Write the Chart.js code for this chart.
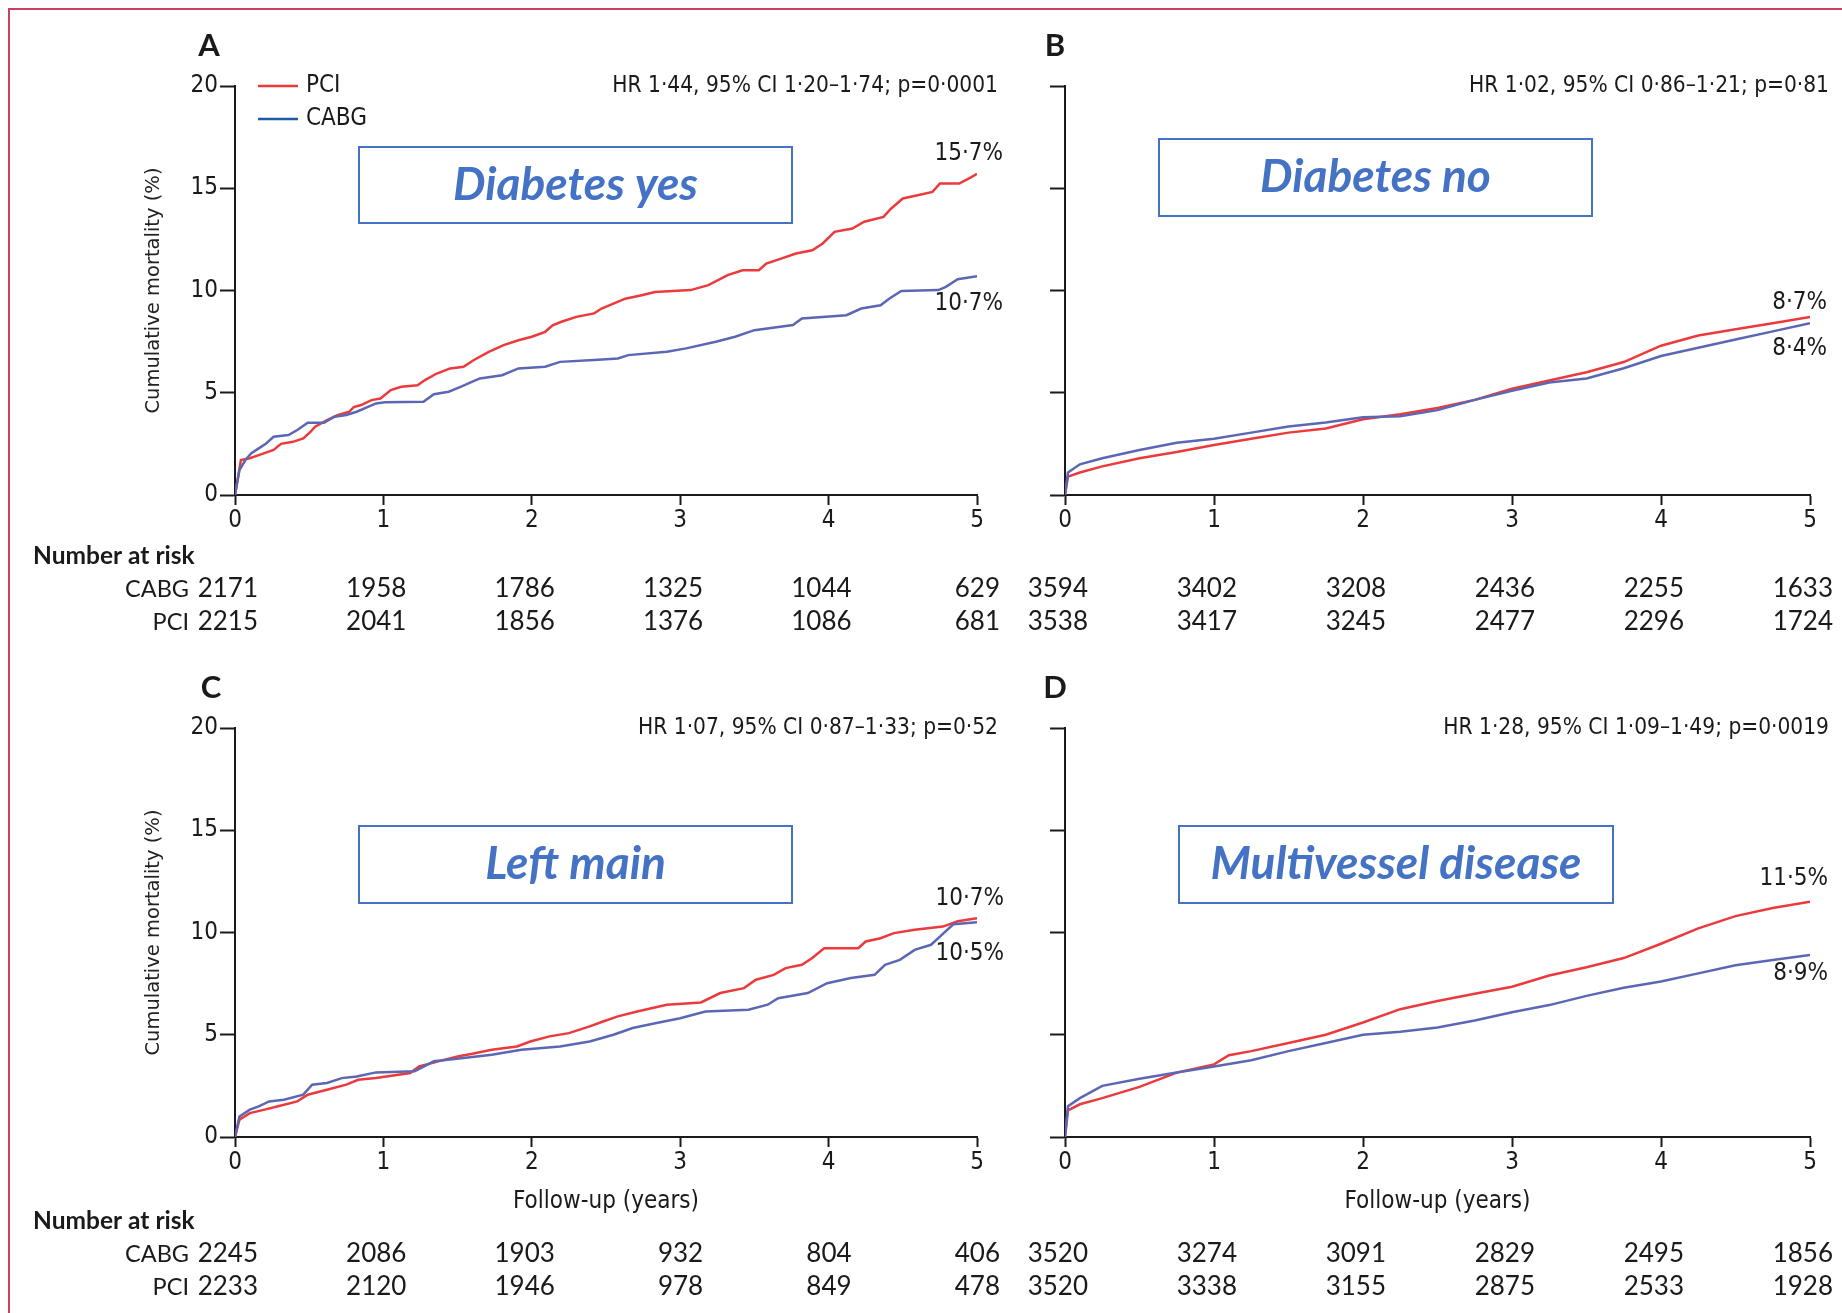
<!DOCTYPE html>
<html>
<head>
<meta charset="utf-8">
<title>Cumulative mortality, PCI vs CABG</title>
<script src="https://cdn.jsdelivr.net/npm/chart.js@4.4.1/dist/chart.umd.min.js"></script>
<style>
  html, body { margin: 0; padding: 0; background: #fff; }
  body { width: 1842px; height: 1313px; position: relative; overflow: hidden; }
  .frame { position: absolute; left: 8px; top: 8px; width: 1900px; height: 1400px;
           border-left: 2px solid #c8415f; border-top: 2px solid #c8415f; }
  .panel { position: absolute; }
</style>
</head>
<body>
<div class="frame"></div>
<div class="panel" style="left:0;top:0;width:1020px;height:660px"><canvas id="chartA"></canvas></div>
<div class="panel" style="left:1020px;top:0;width:822px;height:660px"><canvas id="chartB"></canvas></div>
<div class="panel" style="left:0;top:660px;width:1020px;height:653px"><canvas id="chartC"></canvas></div>
<div class="panel" style="left:1020px;top:660px;width:822px;height:653px"><canvas id="chartD"></canvas></div>
<script>
// follow-up years shown on the x axis, and the y ticks
const yearTicks = [0, 1, 2, 3, 4, 5];
const mortalityTicks = [0, 5, 10, 15, 20];

// Kaplan-Meier curves: [years, cumulative mortality %]
const diabYesPci = [[0,0],[0.04,1.71],[0.1,1.8],[0.16,1.95],[0.26,2.2],[0.31,2.5],[0.39,2.6],[0.46,2.77],[0.51,3.1],[0.54,3.34],[0.62,3.66],[0.69,3.9],[0.77,4.07],[0.8,4.3],[0.85,4.4],[0.92,4.64],[0.98,4.72],[1.05,5.13],[1.12,5.29],[1.23,5.37],[1.28,5.62],[1.36,5.94],[1.45,6.19],[1.54,6.27],[1.61,6.6],[1.71,7.0],[1.81,7.33],[1.91,7.57],[2.0,7.74],[2.09,7.98],[2.14,8.3],[2.2,8.47],[2.3,8.71],[2.42,8.88],[2.47,9.12],[2.55,9.36],[2.63,9.6],[2.74,9.77],[2.83,9.93],[3.07,10.02],[3.19,10.26],[3.32,10.75],[3.42,10.99],[3.53,10.99],[3.58,11.32],[3.68,11.56],[3.78,11.81],[3.89,11.97],[3.96,12.3],[4.04,12.87],[4.16,13.03],[4.24,13.36],[4.37,13.6],[4.42,14.0],[4.5,14.5],[4.6,14.66],[4.7,14.82],[4.75,15.23],[4.88,15.23],[4.95,15.5],[5,15.7]];
const diabYesCabg = [[0,0],[0.03,1.22],[0.07,1.71],[0.11,2.04],[0.16,2.28],[0.21,2.52],[0.26,2.85],[0.36,2.93],[0.42,3.18],[0.49,3.53],[0.6,3.53],[0.67,3.83],[0.75,3.91],[0.82,4.07],[0.95,4.48],[1.01,4.53],[1.27,4.56],[1.34,4.93],[1.44,5.05],[1.52,5.29],[1.6,5.54],[1.65,5.7],[1.8,5.86],[1.91,6.19],[2.09,6.27],[2.19,6.51],[2.42,6.6],[2.58,6.68],[2.65,6.84],[2.91,7.0],[3.04,7.17],[3.24,7.49],[3.37,7.74],[3.5,8.06],[3.76,8.31],[3.82,8.63],[4.12,8.79],[4.22,9.12],[4.35,9.28],[4.41,9.61],[4.49,9.98],[4.74,10.02],[4.79,10.18],[4.87,10.55],[5,10.7]];
const diabNoPci = [[0,0],[0.02,0.9],[0.1,1.1],[0.25,1.4],[0.5,1.8],[0.75,2.1],[1,2.45],[1.25,2.75],[1.5,3.05],[1.75,3.25],[2,3.7],[2.25,3.95],[2.5,4.25],[2.75,4.65],[3,5.2],[3.25,5.6],[3.5,6.0],[3.75,6.5],[4,7.3],[4.25,7.8],[4.5,8.1],[4.75,8.4],[5,8.7]];
const diabNoCabg = [[0,0],[0.02,1.1],[0.1,1.5],[0.25,1.8],[0.5,2.2],[0.75,2.55],[1,2.75],[1.25,3.05],[1.5,3.35],[1.75,3.55],[2,3.8],[2.25,3.85],[2.5,4.15],[2.75,4.65],[3,5.1],[3.25,5.5],[3.5,5.7],[3.75,6.2],[4,6.8],[4.25,7.2],[4.5,7.6],[4.75,8.0],[5,8.4]];
const leftMainPci = [[0,0],[0.03,0.85],[0.1,1.17],[0.2,1.34],[0.29,1.5],[0.42,1.74],[0.49,2.07],[0.62,2.31],[0.75,2.56],[0.83,2.8],[0.95,2.88],[1.18,3.13],[1.24,3.45],[1.37,3.7],[1.5,3.94],[1.6,4.07],[1.73,4.27],[1.9,4.43],[1.99,4.67],[2.12,4.92],[2.25,5.08],[2.39,5.41],[2.48,5.65],[2.58,5.9],[2.71,6.14],[2.91,6.47],[3.14,6.58],[3.27,7.04],[3.43,7.28],[3.51,7.69],[3.63,7.93],[3.71,8.26],[3.82,8.42],[3.89,8.75],[3.97,9.23],[4.2,9.23],[4.25,9.56],[4.35,9.72],[4.44,9.97],[4.58,10.13],[4.77,10.29],[4.87,10.55],[5,10.7]];
const leftMainCabg = [[0,0],[0.03,1.0],[0.1,1.34],[0.16,1.5],[0.23,1.74],[0.33,1.82],[0.46,2.07],[0.52,2.56],[0.62,2.64],[0.72,2.88],[0.82,2.96],[0.95,3.16],[1.21,3.21],[1.34,3.7],[1.54,3.86],[1.73,4.02],[1.93,4.27],[2.19,4.43],[2.39,4.67],[2.55,5.0],[2.68,5.33],[2.84,5.57],[3.0,5.81],[3.17,6.14],[3.46,6.22],[3.59,6.47],[3.66,6.79],[3.86,7.04],[3.99,7.52],[4.15,7.77],[4.31,7.93],[4.38,8.42],[4.48,8.66],[4.58,9.15],[4.69,9.4],[4.75,9.8],[4.84,10.4],[5,10.5]];
const multiPci = [[0,0],[0.02,1.3],[0.1,1.6],[0.25,1.9],[0.5,2.45],[0.75,3.15],[1,3.55],[1.1,4.0],[1.25,4.2],[1.5,4.6],[1.75,5.0],[2,5.6],[2.25,6.25],[2.5,6.65],[2.75,7.0],[3,7.35],[3.25,7.9],[3.5,8.3],[3.75,8.75],[4,9.45],[4.25,10.2],[4.5,10.8],[4.75,11.2],[5,11.5]];
const multiCabg = [[0,0],[0.02,1.5],[0.1,1.9],[0.25,2.5],[0.5,2.85],[0.75,3.15],[1,3.45],[1.25,3.75],[1.5,4.2],[1.75,4.6],[2,5.0],[2.25,5.15],[2.5,5.35],[2.75,5.7],[3,6.1],[3.25,6.45],[3.5,6.9],[3.75,7.3],[4,7.6],[4.25,8.0],[4.5,8.4],[4.75,8.65],[5,8.9]];

// number at risk at each year
const diabYesRiskCabg = [2171, 1958, 1786, 1325, 1044, 629];
const diabYesRiskPci = [2215, 2041, 1856, 1376, 1086, 681];
const diabNoRiskCabg = [3594, 3402, 3208, 2436, 2255, 1633];
const diabNoRiskPci = [3538, 3417, 3245, 2477, 2296, 1724];
const leftMainRiskCabg = [2245, 2086, 1903, 932, 804, 406];
const leftMainRiskPci = [2233, 2120, 1946, 978, 849, 478];
const multiRiskCabg = [3520, 3274, 3091, 2829, 2495, 1856];
const multiRiskPci = [3520, 3338, 3155, 2875, 2533, 1928];

const hazardTexts = [
  'HR 1·44, 95% CI 1·20–1·74; p=0·0001',
  'HR 1·02, 95% CI 0·86–1·21; p=0·81',
  'HR 1·07, 95% CI 0·87–1·33; p=0·52',
  'HR 1·28, 95% CI 1·09–1·49; p=0·0019'
];
const subgroupNames = ['Diabetes yes', 'Diabetes no', 'Left main', 'Multivessel disease'];
const panelLetters = ['A', 'B', 'C', 'D'];
const seriesNames = ['PCI', 'CABG'];

const NARROW = "'Liberation Sans Narrow', 'DejaVu Sans Condensed', sans-serif";
const SANS = "Lato, 'Open Sans', sans-serif";
const INK = '#1a1a1a';
const PCI_RED = '#ec3a3c';
const CABG_BLUE = '#5b67b5';
const BOX_BLUE = '#4472c4';

function pct(v) {
  return v.toFixed(1).replace('.', '·') + '%';
}

// draws the panel letter, HR, label box, end values, legend and risk table
const panelDecor = {
  id: 'panelDecor',
  afterDraw(chart, args, o) {
    const ctx = chart.ctx;
    const area = chart.chartArea;
    const x = chart.scales.x;
    const y = chart.scales.y;
    const xEnd = x.getPixelForValue(5);
    ctx.save();
    ctx.fillStyle = INK;
    ctx.textBaseline = 'middle';

    ctx.font = 'bold 31px ' + SANS;
    ctx.textAlign = 'center';
    ctx.fillText(o.letter, area.left + o.letterDx, area.top - 40);

    ctx.font = '22.5px ' + NARROW;
    ctx.textAlign = 'right';
    ctx.fillText(o.hr, xEnd + o.hrRight, y.getPixelForValue(20));

    // value at 5 years, next to each curve end
    ctx.font = '24px ' + NARROW;
    const pciEnd = o.pci[o.pci.length - 1][1];
    const cabgEnd = o.cabg[o.cabg.length - 1][1];
    ctx.fillText(pct(pciEnd), xEnd + o.endRight, y.getPixelForValue(pciEnd) + o.endDy[0]);
    ctx.fillText(pct(cabgEnd), xEnd + o.endRight, y.getPixelForValue(cabgEnd) + o.endDy[1]);

    // subgroup box
    const b = o.box;
    ctx.strokeStyle = BOX_BLUE;
    ctx.lineWidth = 2;
    ctx.strokeRect(area.left + b.dx, area.top + b.dy, b.w, b.h);
    ctx.fillStyle = BOX_BLUE;
    ctx.textAlign = 'center';
    ctx.font = 'italic bold 46px ' + SANS;
    ctx.fillText(o.name, area.left + b.dx + b.w / 2, area.top + b.dy + b.h / 2);

    if (o.legend) {
      const ly = y.getPixelForValue(20);
      [[PCI_RED, seriesNames[0]], ['#1e5ca6', seriesNames[1]]].forEach(function(item, i) {
        ctx.strokeStyle = item[0];
        ctx.lineWidth = 2.5;
        ctx.beginPath();
        ctx.moveTo(area.left + 23, ly + i * 33);
        ctx.lineTo(area.left + 63, ly + i * 33);
        ctx.stroke();
        ctx.fillStyle = INK;
        ctx.textAlign = 'left';
        ctx.font = '24px ' + NARROW;
        ctx.fillText(item[1], area.left + 71, ly + i * 33);
      });
    }

    // number at risk
    ctx.fillStyle = INK;
    const rows = [[seriesNames[1], o.riskCabg], [seriesNames[0], o.riskPci]];
    if (o.rowLabels) {
      ctx.font = 'bold 24.5px ' + SANS;
      ctx.textAlign = 'left';
      ctx.fillText('Number at risk', area.left - 202, area.bottom + o.riskRows[0]);
    }
    rows.forEach(function(row, r) {
      const ry = area.bottom + o.riskRows[r + 1];
      if (o.rowLabels) {
        ctx.font = '23.5px ' + SANS;
        ctx.textAlign = 'right';
        ctx.fillText(row[0], area.left - 46, ry);
      }
      ctx.font = '26px ' + SANS;
      ctx.textAlign = 'right';
      row[1].forEach(function(n, i) {
        ctx.fillText(String(n), x.getPixelForValue(yearTicks[i]) + 23, ry);
      });
    });
    ctx.restore();
  }
};

function makePanel(cfg) {
  const yScale = {
    type: 'linear',
    min: mortalityTicks[0],
    max: mortalityTicks[mortalityTicks.length - 1],
    afterBuildTicks: function(scale) { scale.ticks = mortalityTicks.map(v => ({value: v})); },
    afterFit: function(scale) {
      scale.width = cfg.yWidth;
      scale.paddingTop = 0; scale.paddingBottom = 0;
    },
    grid: { drawOnChartArea: false, drawTicks: true, tickLength: 15, tickWidth: 2, tickColor: INK },
    border: { display: true, color: INK, width: 2 },
    ticks: { display: cfg.yLabels, padding: 2, color: INK, font: { family: NARROW, size: 24 } },
    title: {
      display: cfg.yLabels,
      text: 'Cumulative mortality (%)',
      color: '#222',
      font: { family: "'DejaVu Sans', sans-serif", size: 19.5 },
      padding: { top: 7, bottom: 0 }
    }
  };
  const xScale = {
    type: 'linear',
    min: yearTicks[0],
    max: yearTicks[yearTicks.length - 1],
    afterBuildTicks: function(scale) { scale.ticks = yearTicks.map(v => ({value: v})); },
    afterFit: function(scale) {
      scale.height = cfg.xHeight;
      scale.paddingLeft = 0; scale.paddingRight = 0;
    },
    grid: { drawOnChartArea: false, drawTicks: true, tickLength: 10, tickWidth: 2, tickColor: INK },
    border: { display: true, color: INK, width: 2 },
    ticks: { padding: 1, color: INK, maxRotation: 0, font: { family: NARROW, size: 24 } },
    title: {
      display: cfg.xTitle,
      text: 'Follow-up (years)',
      color: INK,
      font: { family: NARROW, size: 24 },
      padding: { top: 0, bottom: 1 }
    }
  };
  return new Chart(document.getElementById(cfg.id), {
    type: 'line',
    data: {
      datasets: [
        { label: seriesNames[1], data: cfg.cabg.map(p => ({x: p[0], y: p[1]})), borderColor: CABG_BLUE },
        { label: seriesNames[0], data: cfg.pci.map(p => ({x: p[0], y: p[1]})), borderColor: PCI_RED }
      ]
    },
    options: {
      responsive: true,
      maintainAspectRatio: false,
      animation: false,
      layout: { padding: cfg.pad },
      elements: {
        line: { borderWidth: 2.5, tension: 0, fill: false },
        point: { radius: 0, hoverRadius: 0 }
      },
      scales: { x: xScale, y: yScale },
      plugins: {
        legend: { display: false },
        tooltip: { enabled: false },
        panelDecor: cfg
      }
    },
    plugins: [panelDecor]
  });
}

const panelCfgs = [
  { id: 'chartA', pci: diabYesPci, cabg: diabYesCabg, riskCabg: diabYesRiskCabg, riskPci: diabYesRiskPci,
    pad: {left: 135, right: 43, top: 86, bottom: 125}, yWidth: 100, xHeight: 40, yLabels: true, xTitle: false,
    letterDx: -26, hrRight: 21, endRight: 26, endDy: [-20, 28], box: {dx: 124, dy: 61, w: 433, h: 76},
    legend: true, rowLabels: true, riskRows: [61, 94, 127] },
  { id: 'chartB', pci: diabNoPci, cabg: diabNoCabg, riskCabg: diabNoRiskCabg, riskPci: diabNoRiskPci,
    pad: {left: 15, right: 32, top: 86, bottom: 125}, yWidth: 30, xHeight: 40, yLabels: false, xTitle: false,
    letterDx: -10, hrRight: 19, endRight: 17, endDy: [-14, 26], box: {dx: 94, dy: 53, w: 433, h: 77},
    legend: false, rowLabels: false, riskRows: [61, 94, 127] },
  { id: 'chartC', pci: leftMainPci, cabg: leftMainCabg, riskCabg: leftMainRiskCabg, riskPci: leftMainRiskPci,
    pad: {left: 135, right: 43, top: 68, bottom: 96}, yWidth: 100, xHeight: 80, yLabels: true, xTitle: true,
    letterDx: -24, hrRight: 21, endRight: 27, endDy: [-19, 31], box: {dx: 124, dy: 98, w: 433, h: 77},
    legend: false, rowLabels: true, riskRows: [84, 117, 150] },
  { id: 'chartD', pci: multiPci, cabg: multiCabg, riskCabg: multiRiskCabg, riskPci: multiRiskPci,
    pad: {left: 15, right: 32, top: 68, bottom: 96}, yWidth: 30, xHeight: 80, yLabels: false, xTitle: true,
    letterDx: -10, hrRight: 19, endRight: 18, endDy: [-23, 19], box: {dx: 114, dy: 98, w: 434, h: 77},
    legend: false, rowLabels: false, riskRows: [84, 117, 150] }
];

panelCfgs.forEach(function(cfg, i) {
  cfg.letter = panelLetters[i];
  cfg.hr = hazardTexts[i];
  cfg.name = subgroupNames[i];
  makePanel(cfg);
});
</script>
</body>
</html>
